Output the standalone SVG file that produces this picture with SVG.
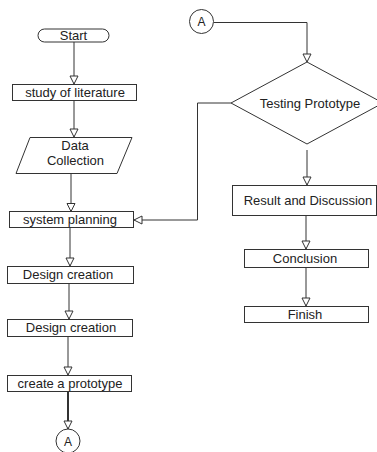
<svg xmlns="http://www.w3.org/2000/svg" width="377" height="452" viewBox="0 0 377 452">
<defs>
<marker id="arr" markerUnits="userSpaceOnUse" markerWidth="10" markerHeight="10" refX="8" refY="4" orient="auto" viewBox="-1 -1 10 10">
<path d="M0,0 L8,4 L0,8 Z" fill="#fff" stroke="#333" stroke-width="1"/>
</marker>
</defs>
<style>
.n{fill:#fff;stroke:#333;stroke-width:1}
.t{font-family:"Liberation Sans",Arial,sans-serif;font-size:13px;fill:#222;text-anchor:middle}
.c{fill:none;stroke:#333;stroke-width:1;marker-end:url(#arr)}
.l{fill:none;stroke:#333;stroke-width:1}
</style>
<rect width="377" height="452" fill="#fff"/>
<g id="connectors">
<path class="c" d="M74,42 V84"/>
<path class="c" d="M74,100 V137"/>
<path class="c" d="M71,173 V211.5"/>
<path class="c" d="M70,228 V266"/>
<path class="c" d="M69,283 V319"/>
<path class="c" d="M68,337 V375"/>
<path class="c" d="M68,392 V429" style="stroke-width:2"/>
<path class="c" d="M214,22.5 H307 V62"/>
<path class="c" d="M231,103 H197.5 V220 H134"/>
<path class="c" d="M307,150 V185"/>
<path class="c" d="M306,215 V249"/>
<path class="c" d="M306,268 V306"/>
</g>
<g id="start">
<rect class="n" x="38" y="29" width="71" height="13" rx="6.5"/>
<text class="t" x="73.5" y="40">Start</text>
</g>
<g id="study">
<rect class="n" x="12.5" y="84.5" width="124" height="16"/>
<text class="t" x="75" y="97">study of literature</text>
</g>
<g id="data">
<polygon class="n" points="30,137.5 132,137.5 117,173.5 16,173.5"/>
<text class="t" x="75" y="150">Data</text>
<text class="t" x="75.5" y="165">Collection</text>
</g>
<g id="planning">
<rect class="n" x="9.5" y="211.5" width="124" height="16"/>
<text class="t" x="70" y="224">system planning</text>
</g>
<g id="design1">
<rect class="n" x="7.5" y="266.5" width="126" height="17"/>
<text class="t" x="68" y="279">Design creation</text>
</g>
<g id="design2">
<rect class="n" x="7.5" y="319.5" width="125" height="17"/>
<text class="t" x="71" y="332">Design creation</text>
</g>
<g id="prototype">
<rect class="n" x="7.5" y="375.5" width="124" height="16"/>
<text class="t" x="70" y="388">create a prototype</text>
</g>
<g id="a-bottom">
<circle class="n" cx="68" cy="441" r="12"/>
<text class="t" x="68" y="446" style="font-size:12px">A</text>
</g>
<g id="a-top">
<circle class="n" cx="201.5" cy="21.5" r="12"/>
<text class="t" x="201.5" y="26" style="font-size:12px">A</text>
</g>
<g id="testing">
<polygon class="n" points="307,62 383,103 307,144 231,103"/>
<text class="t" x="310" y="108">Testing Prototype</text>
</g>
<g id="result">
<rect class="n" x="232.5" y="185.5" width="144" height="30"/>
<text class="t" x="308" y="205">Result and Discussion</text>
</g>
<g id="conclusion">
<rect class="n" x="244.5" y="249.5" width="124" height="18"/>
<text class="t" x="305" y="263">Conclusion</text>
</g>
<g id="finish">
<rect class="n" x="244.5" y="306.5" width="124" height="16"/>
<text class="t" x="305" y="319">Finish</text>
</g>
</svg>
